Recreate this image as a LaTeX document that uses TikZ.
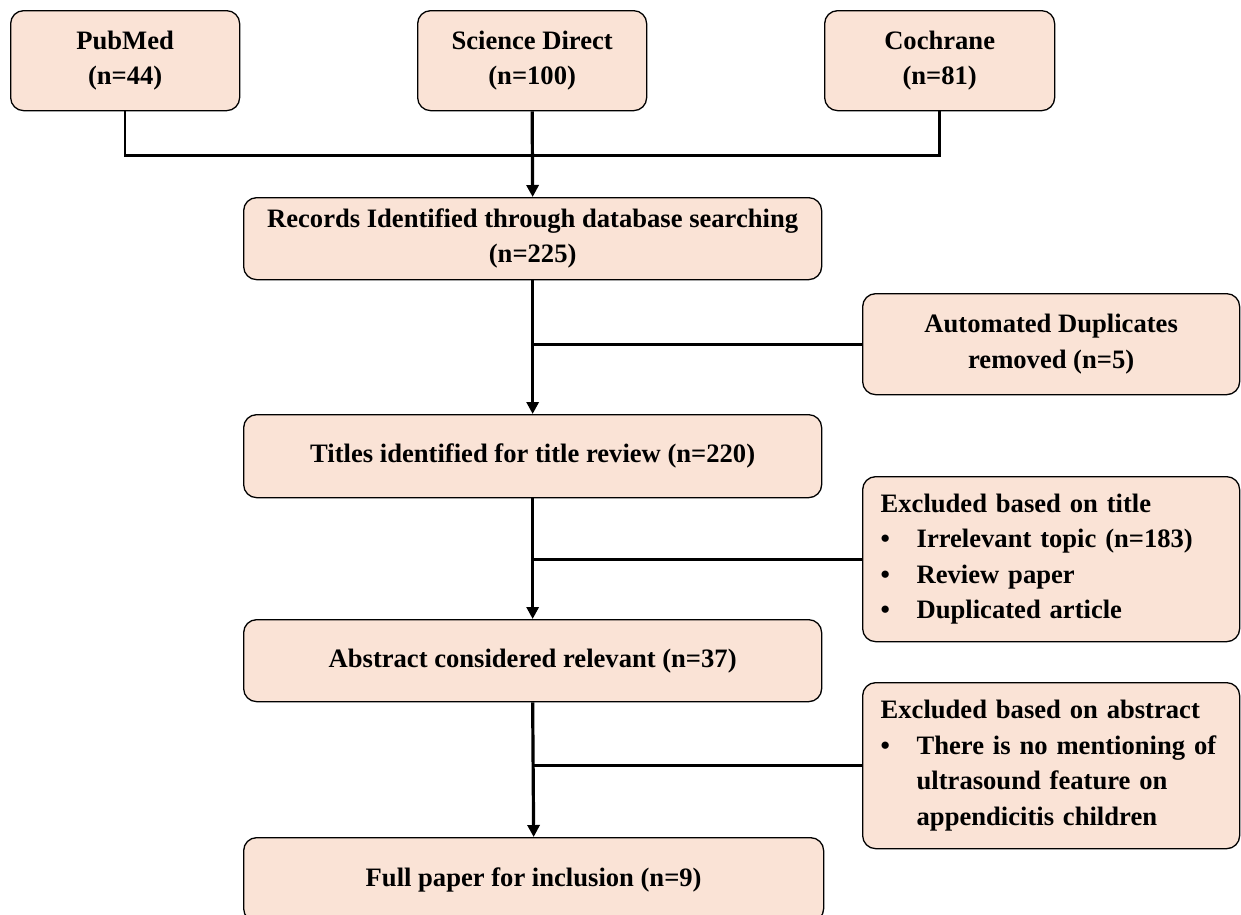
\documentclass[tikz,border=0pt]{standalone}
\usepackage{fontspec}
\setmainfont{Liberation Serif}
\usetikzlibrary{arrows.meta}
\definecolor{boxfill}{RGB}{250,227,214}
\tikzset{
  flowbox/.style={draw=black, line width=1.3pt, fill=boxfill, rounded corners=13pt,
    inner sep=0pt, anchor=north west, align=center,
    font=\fontsize{26.6}{35.5}\selectfont\bfseries},
  sidebox/.style={flowbox, align=left, inner xsep=18pt, text width=341pt},
  conn/.style={line width=3.2pt},
  thinconn/.style={line width=2.6pt},
  arr/.style={line width=3.2pt, -{Triangle[length=12pt,width=12pt]}}
}
\newcommand{\bul}{\makebox[36pt][l]{\textbullet}}
\begin{document}
\begin{tikzpicture}[x=1pt,y=-1pt]
\useasboundingbox (0,0) rectangle (1241,914);
\node[flowbox, minimum width=229pt, minimum height=100pt] (pub) at (10,10) {PubMed\\(n=44)};
\node[flowbox, minimum width=229pt, minimum height=100pt] (sd) at (417,10) {Science Direct\\(n=100)};
\node[flowbox, minimum width=230pt, minimum height=100pt] (coch) at (824,10) {Cochrane\\(n=81)};
\node[flowbox, minimum width=578pt, minimum height=82pt] (rec) at (243,197) {Records Identified through database searching\\(n=225)};
\node[flowbox, minimum width=377pt, minimum height=101pt] (auto) at (862,293) {Automated Duplicates\\removed (n=5)};
\node[flowbox, minimum width=578pt, minimum height=83pt] (titles) at (243,414) {Titles identified for title review (n=220)};
\node[sidebox, minimum width=377pt, minimum height=165pt] (exT) at (862,476) {Excluded based on title\\\bul Irrelevant topic (n=183)\\\bul Review paper\\\bul Duplicated article};
\node[flowbox, minimum width=578pt, minimum height=82pt] (abs) at (243,619) {Abstract considered relevant (n=37)};
\node[sidebox, minimum width=377pt, minimum height=166pt] (exA) at (862,682) {Excluded based on abstract\\\bul There is no mentioning of\\\hspace*{36pt}ultrasound feature on\\\hspace*{36pt}appendicitis children};
\node[flowbox, minimum width=580pt, minimum height=84pt] (full) at (243,837) {Full paper for inclusion (n=9)};
% connectors
\draw[thinconn] (pub.south) -- ++(0,44) -| (coch.south);
\draw[arr] (sd.south) -- (rec.north);
\draw[arr] (rec.south) -- (titles.north);
\draw[conn] (auto.west) -- (auto.west -| rec.south);
\draw[arr] (titles.south) -- (abs.north);
\draw[conn] (exT.west) -- (exT.west -| titles.south);
\draw[arr] (abs.south) -- (full.north);
\draw[conn] (exA.west) -- (exA.west -| abs.south);
\end{tikzpicture}
\end{document}
